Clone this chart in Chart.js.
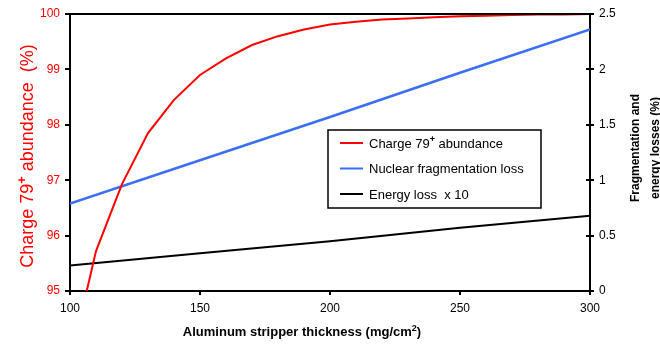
<!DOCTYPE html>
<html>
<head>
<meta charset="utf-8">
<script src="https://cdn.jsdelivr.net/npm/chart.js@4/dist/chart.umd.min.js"></script>
<style>
  html, body { margin: 0; padding: 0; background: #fff; }
  #wrap { width: 660px; height: 348px; }
</style>
</head>
<body>
<div id="wrap"><canvas id="c" width="660" height="348"></canvas></div>
<script>
// Stripper thickness (mg/cm²) at which the charge-state abundance was computed
const thickness = [100, 110, 120, 130, 140, 150, 160, 170, 180, 190, 200,
                   210, 220, 230, 240, 250, 260, 270, 280, 290, 300];
// Charge 79+ abundance (%), left axis
const chargeAbundance = [93.7, 95.72, 96.93, 97.85, 98.45, 98.9, 99.2, 99.44, 99.6, 99.72, 99.81,
                         99.86, 99.9, 99.92, 99.94, 99.96, 99.97, 99.98, 99.99, 99.99, 100];
// Thickness points for the loss curves
const lossThickness = [100, 150, 200, 250, 300];
// Nuclear fragmentation loss (%), right axis
const fragmentationLoss = [0.79, 1.18, 1.57, 1.97, 2.36];
// Energy loss x 10 (%), right axis
const energyLoss = [0.23, 0.34, 0.45, 0.57, 0.68];

// Axis ticks
const xTicks = [100, 150, 200, 250, 300];
const leftTicks = [95, 96, 97, 98, 99, 100];
const rightTicks = [0, 0.5, 1, 1.5, 2, 2.5];

const RED = '#ff0000';
const BLUE = '#3b6ef5';
const BLACK = '#000000';
const FONT = '"Liberation Sans", Arial, sans-serif';

const pts = (xs, ys) => xs.map((x, i) => ({ x: x, y: ys[i] }));

// Draw text where a "+" or digit is raised as a superscript: parts = [[text, sup], ...]
function drawRich(ctx, parts, x, y, size, weight, align) {
  let total = 0;
  const widths = parts.map(([t, sup]) => {
    ctx.font = `${sup ? 'bold ' : weight + ' '}${sup ? Math.round(size * 0.7) : size}px ${FONT}`;
    const w = ctx.measureText(t).width;
    total += w;
    return w;
  });
  let cx = align === 'center' ? x - total / 2 : x;
  parts.forEach(([t, sup], i) => {
    ctx.font = `${sup ? 'bold ' : weight + ' '}${sup ? Math.round(size * 0.7) : size}px ${FONT}`;
    ctx.textAlign = 'left';
    ctx.textBaseline = 'alphabetic';
    ctx.fillText(t, cx, sup ? y - size * 0.4 : y);
    cx += widths[i];
  });
}

const decorations = {
  id: 'decorations',
  afterDraw(chart) {
    const { ctx, chartArea: a } = chart;
    ctx.save();
    // top frame line
    ctx.strokeStyle = BLACK;
    ctx.lineWidth = 2;
    ctx.beginPath();
    ctx.moveTo(a.left - 1, a.top);
    ctx.lineTo(a.right + 1, a.top);
    ctx.stroke();
    // inward half of the right-axis ticks
    const y2 = chart.scales.y2;
    ctx.beginPath();
    rightTicks.forEach(v => {
      const py = Math.round(y2.getPixelForValue(v));
      ctx.moveTo(a.right - 4, py);
      ctx.lineTo(a.right, py);
    });
    ctx.stroke();

    // left axis title
    ctx.fillStyle = RED;
    ctx.save();
    ctx.translate(27, 156);
    ctx.rotate(-Math.PI / 2);
    drawRich(ctx, [['Charge 79', false], ['+', true], [' abundance  (%)', false]], 0, 6, 18, 'normal', 'center');
    ctx.restore();

    // right axis title (two lines)
    ctx.fillStyle = BLACK;
    ctx.save();
    ctx.translate(643, 148);
    ctx.rotate(-Math.PI / 2);
    ctx.font = `bold 12px ${FONT}`;
    ctx.textAlign = 'center';
    ctx.textBaseline = 'middle';
    ctx.fillText('Fragmentation and', 0, -7);
    ctx.fillText('energy losses (%)', 0, 13);
    ctx.restore();

    // x axis title
    drawRich(ctx, [['Aluminum stripper thickness (mg/cm', false], ['2', true], [')', false]], 302, 336, 13, 'bold', 'center');

    // legend box
    const bx = 328, by = 130, bw = 213, bh = 78;
    ctx.lineWidth = 1.5;
    ctx.strokeStyle = BLACK;
    ctx.strokeRect(bx, by, bw, bh);
    const rows = [143, 168.5, 194];
    chart.data.datasets.forEach((ds, i) => {
      const ry = rows[i];
      ctx.strokeStyle = ds.borderColor;
      ctx.lineWidth = 2;
      ctx.beginPath();
      ctx.moveTo(340, ry);
      ctx.lineTo(363, ry);
      ctx.stroke();
      ctx.fillStyle = BLACK;
      if (i === 0) {
        drawRich(ctx, [['Charge 79', false], ['+', true], [' abundance', false]], 369, ry + 4.5, 13, 'normal', 'left');
      } else {
        ctx.font = `13px ${FONT}`;
        ctx.textAlign = 'left';
        ctx.textBaseline = 'alphabetic';
        ctx.fillText(ds.label, 369, ry + 4.5);
      }
    });
    ctx.restore();
  }
};

new Chart(document.getElementById('c'), {
  type: 'line',
  data: {
    datasets: [
      { label: 'Charge 79+ abundance', data: pts(thickness, chargeAbundance), yAxisID: 'y',
        borderColor: RED, borderWidth: 2, pointRadius: 0, tension: 0, fill: false },
      { label: 'Nuclear fragmentation loss', data: pts(lossThickness, fragmentationLoss), yAxisID: 'y2',
        borderColor: BLUE, borderWidth: 2.5, pointRadius: 0, tension: 0, fill: false },
      { label: 'Energy loss  x 10', data: pts(lossThickness, energyLoss), yAxisID: 'y2',
        borderColor: BLACK, borderWidth: 2, pointRadius: 0, tension: 0, fill: false }
    ]
  },
  options: {
    responsive: false,
    animation: false,
    devicePixelRatio: 1,
    layout: { padding: { top: 14, left: 0, right: 0, bottom: 0 } },
    plugins: { legend: { display: false }, tooltip: { enabled: false } },
    scales: {
      x: {
        type: 'linear', min: 100, max: 300,
        afterBuildTicks: s => { s.ticks = xTicks.map(v => ({ value: v })); },
        ticks: { color: BLACK, font: { family: FONT, size: 12 }, padding: 6, maxRotation: 0,
                 callback: v => String(v) },
        grid: { drawOnChartArea: false, drawTicks: true, tickLength: 4, color: BLACK, lineWidth: 2 },
        border: { display: true, color: BLACK, width: 2 },
        afterFit: s => { s.height = 57; }
      },
      y: {
        position: 'left', min: 95, max: 100,
        afterBuildTicks: s => { s.ticks = leftTicks.map(v => ({ value: v })); },
        ticks: { color: RED, font: { family: FONT, size: 12 }, padding: 5, callback: v => String(v) },
        grid: { drawOnChartArea: false, drawTicks: true, tickLength: 5, color: BLACK, lineWidth: 2 },
        border: { display: true, color: BLACK, width: 2 },
        afterFit: s => { s.width = 70; }
      },
      y2: {
        position: 'right', min: 0, max: 2.5,
        afterBuildTicks: s => { s.ticks = rightTicks.map(v => ({ value: v })); },
        ticks: { color: BLACK, font: { family: FONT, size: 12 }, padding: 5, callback: v => String(v) },
        grid: { drawOnChartArea: false, drawTicks: true, tickLength: 4, color: BLACK, lineWidth: 2 },
        border: { display: true, color: BLACK, width: 2 },
        afterFit: s => { s.width = 70; }
      }
    }
  },
  plugins: [decorations]
});
</script>
</body>
</html>
